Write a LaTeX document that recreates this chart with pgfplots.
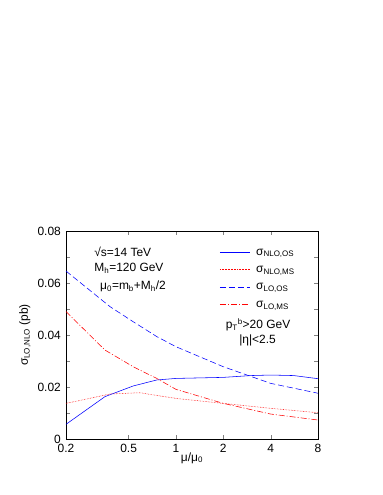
\documentclass[border=0pt]{standalone}
\usepackage{fontspec}
\setmainfont{Liberation Sans}
\usepackage{pgfplots}
\pgfplotsset{compat=1.18}

% slightly different shades for the legend samples, so each one sets its own colour
\definecolor{lgA}{RGB}{3,3,255}
\definecolor{lgB}{RGB}{255,3,3}
\definecolor{lgC}{RGB}{6,6,255}
\definecolor{lgD}{RGB}{255,6,6}

% line styles of the four curves
\tikzset{
  nloos/.style={draw=blue, line width=0.55pt},
  nloms/.style={draw=red, line width=0.55pt, densely dotted},
  loos/.style={draw=blue, line width=0.55pt, dash pattern=on 6bp off 3bp},
  loms/.style={draw=red, line width=0.55pt, dash pattern=on 6bp off 2bp on 1bp off 2bp},
}

\begin{document}
\fontsize{12}{14}\selectfont
\begin{tikzpicture}
\useasboundingbox (-66bp,-56bp) rectangle (317bp,439bp);
\begin{axis}[
    at={(0,0)}, anchor=south west,
    scale only axis,
    width=252bp, height=208bp,
    font=\fontsize{12}{14}\selectfont,
    xmode=log,
    xmin=0.2, xmax=8,
    ymin=0, ymax=0.08,
    xtick={0.2,0.5,1,2,4,8},
    xticklabels={0.2,0.5,1,2,4,8},
    minor x tick style={draw=none},
    ytick={0,0.02,0.04,0.06,0.08},
    yticklabels={0,0.02,0.04,0.06,0.08},
    minor ytick={0.01,0.03,0.05,0.07},
    scaled y ticks=false,
    tick align=inside,
    major tick length=4bp,
    minor tick length=4bp,
    axis line style={line width=0.6pt},
    xticklabel style={yshift=-1bp},
    yticklabel style={xshift=-1bp},
    xlabel={μ/μ\textsubscript{0}},
    ylabel={σ\textsubscript{LO,NLO} (pb)},
    xlabel style={at={(axis description cs:0.5,-0.091)}, anchor=center},
    ylabel style={at={(axis description cs:-0.163,0.5)}, anchor=center},
]
\addplot[nloos] coordinates {
(0.2,0.00565)(0.354,0.0163)(0.535,0.0204)(0.755,0.0227)(1,0.0233)
(2,0.0237)(3,0.0244)(4,0.0246)(5.6,0.0244)(8,0.0232)};
\addplot[nloms] coordinates {
(0.2,0.0137)(0.381,0.0173)(0.59,0.0178)(1,0.0156)(2,0.0137)
(4,0.0118)(8,0.0101)};
\addplot[loos] coordinates {
(0.2,0.0646)(0.381,0.0509)(0.535,0.0451)(0.755,0.0394)(1,0.0355)
(2,0.0278)(4,0.0214)(8,0.0176)};
\addplot[loms] coordinates {
(0.2,0.0490)(0.354,0.0342)(0.535,0.0278)(0.755,0.0233)(1,0.0191)
(2,0.0137)(4,0.0096)(8,0.0073)};

% legend samples
\addplot[nloos, draw=lgA, line width=0.7pt] coordinates {(1.905,0.0719)(2.955,0.0719)};
\addplot[nloms, draw=lgB, line width=0.7pt] coordinates {(1.905,0.0652)(2.955,0.0652)};
\addplot[loos, draw=lgC, line width=0.7pt] coordinates {(1.905,0.0585)(2.955,0.0585)};
\addplot[loms, draw=lgD, line width=0.7pt] coordinates {(1.905,0.0518)(2.955,0.0518)};
% legend text
\node[anchor=west, inner sep=0pt] at (rel axis cs:0.754,0.893) {σ\textsubscript{NLO,OS}};
\node[anchor=west, inner sep=0pt] at (rel axis cs:0.754,0.809) {σ\textsubscript{NLO,MS}};
\node[anchor=west, inner sep=0pt] at (rel axis cs:0.754,0.725) {σ\textsubscript{LO,OS}};
\node[anchor=west, inner sep=0pt] at (rel axis cs:0.754,0.641) {σ\textsubscript{LO,MS}};

\node[anchor=west, inner sep=0pt] at (rel axis cs:0.112,0.900) {√s=14 TeV};
\node[anchor=west, inner sep=0pt] at (rel axis cs:0.112,0.822) {M\textsubscript{h}=120 GeV};
\node[anchor=west, inner sep=0pt] at (rel axis cs:0.135,0.732) {μ\textsubscript{0}=m\textsubscript{b}+M\textsubscript{h}/2};
\node[inner sep=0pt] at (rel axis cs:0.762,0.548) {p\textsubscript{T}\textsuperscript{b}>20 GeV};
\node[inner sep=0pt] at (rel axis cs:0.760,0.473) {|η|<2.5};
\end{axis}
\end{tikzpicture}
\end{document}
